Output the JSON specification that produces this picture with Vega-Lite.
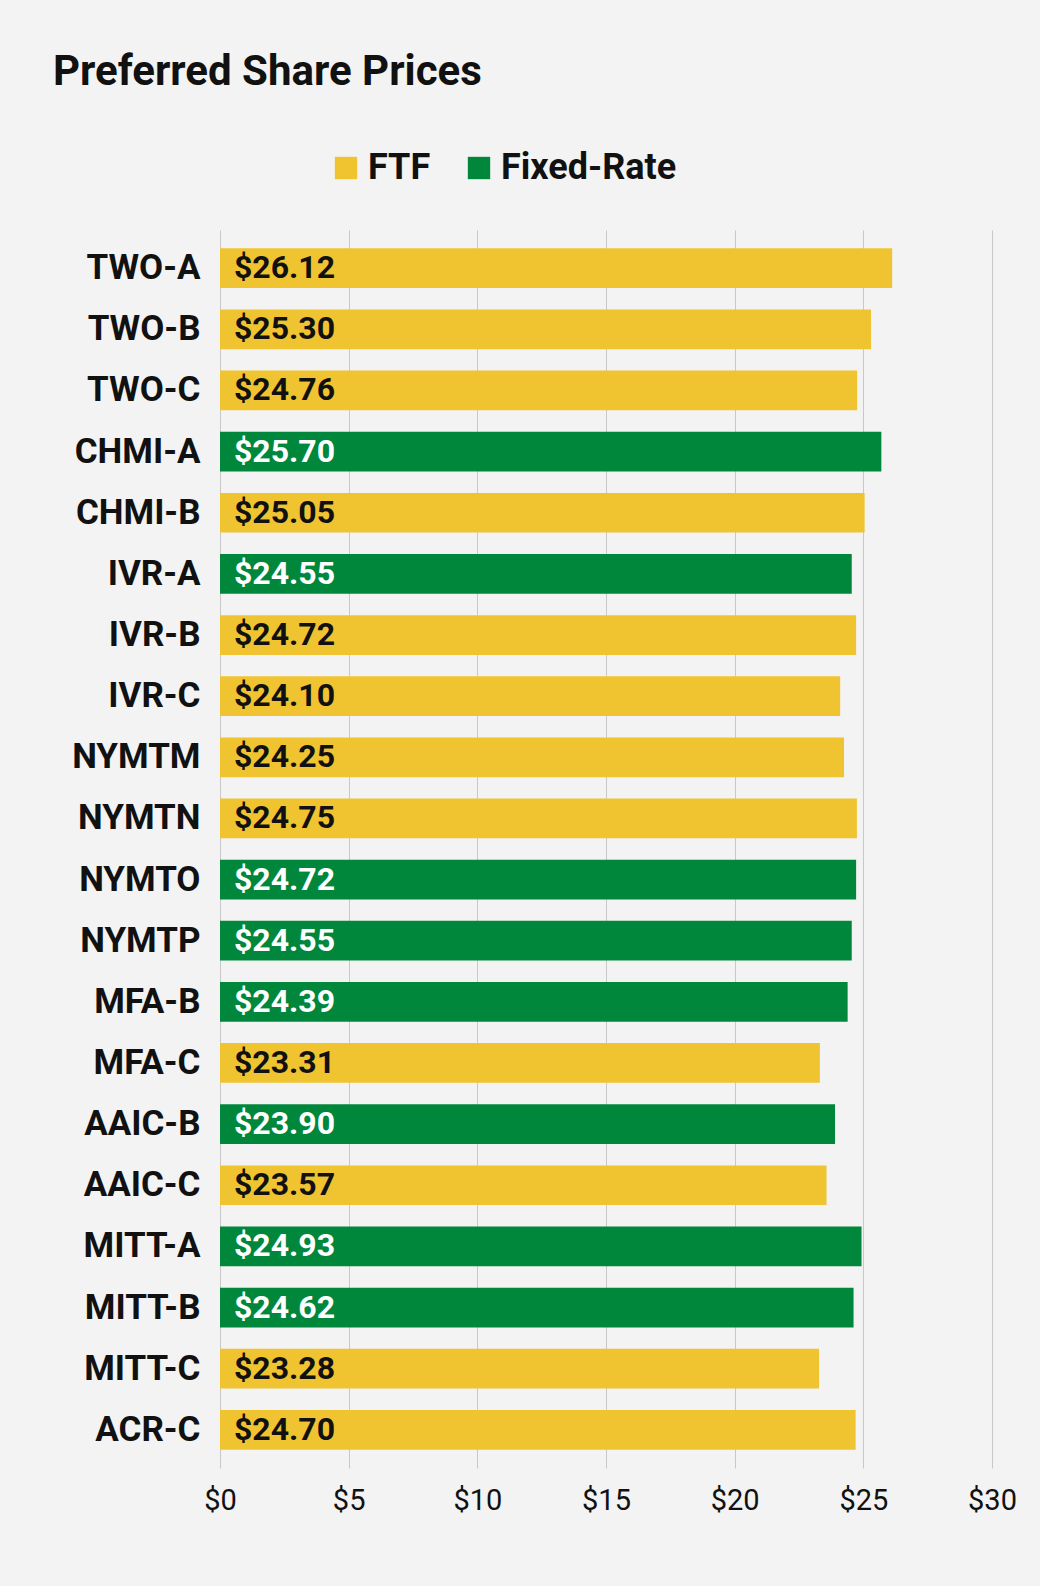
{
"$schema":"https://vega.github.io/schema/vega-lite/v6.json",
"autosize":"none","width":772,"height":1238,
"padding":{"left":220,"top":230,"right":48,"bottom":118},
"background":"#f3f3f3",
"config":{"view":{"stroke":null},"font":"Roboto"},
"title":{"text":"Preferred Share Prices","anchor":"start","frame":"group","dx":-167,"offset":56,"fontSize":42,"fontWeight":"bold","color":"#111","baseline":"top"},
"data":{"values":[
{"n":"TWO-A","v":26.12,"t":"FTF"},{"n":"TWO-B","v":25.30,"t":"FTF"},{"n":"TWO-C","v":24.76,"t":"FTF"},
{"n":"CHMI-A","v":25.70,"t":"Fixed-Rate"},{"n":"CHMI-B","v":25.05,"t":"FTF"},{"n":"IVR-A","v":24.55,"t":"Fixed-Rate"},
{"n":"IVR-B","v":24.72,"t":"FTF"},{"n":"IVR-C","v":24.10,"t":"FTF"},{"n":"NYMTM","v":24.25,"t":"FTF"},
{"n":"NYMTN","v":24.75,"t":"FTF"},{"n":"NYMTO","v":24.72,"t":"Fixed-Rate"},{"n":"NYMTP","v":24.55,"t":"Fixed-Rate"},
{"n":"MFA-B","v":24.39,"t":"Fixed-Rate"},{"n":"MFA-C","v":23.31,"t":"FTF"},{"n":"AAIC-B","v":23.90,"t":"Fixed-Rate"},
{"n":"AAIC-C","v":23.57,"t":"FTF"},{"n":"MITT-A","v":24.93,"t":"Fixed-Rate"},{"n":"MITT-B","v":24.62,"t":"Fixed-Rate"},
{"n":"MITT-C","v":23.28,"t":"FTF"},{"n":"ACR-C","v":24.70,"t":"FTF"}]},
"encoding":{"y":{"field":"n","type":"nominal","sort":null,"scale":{"paddingInner":0.35,"paddingOuter":0.3},
"axis":{"title":null,"labelFontSize":35,"labelFontWeight":"bold","labelColor":"#111","ticks":false,"domain":false,"labelPadding":20,"labelLimit":300}}},
"layer":[
{"mark":{"type":"bar"},
"encoding":{"x":{"field":"v","type":"quantitative","scale":{"domain":[0,30]},
"axis":{"title":null,"values":[0,5,10,15,20,25,30],"labelExpr":"'$'+datum.value","labelFontSize":29,"labelColor":"#111","gridColor":"#c8c8c8","domain":false,"ticks":false,"labelPadding":18,"labelFlush":false,"labelBound":false,"labelOverlap":false}},
"color":{"field":"t","type":"nominal","scale":{"domain":["FTF","Fixed-Rate"],"range":["#f0c330","#00873c"]},
"legend":{"title":null,"orient":"none","direction":"horizontal","legendX":108,"legendY":-80,"labelFontSize":36,"labelFontWeight":"bold","labelColor":"#111","labelLimit":400,"symbolType":"square","symbolSize":500,"columnPadding":30}}}},
{"mark":{"type":"rule","color":"#333","strokeWidth":2},"encoding":{"x":{"datum":0}}},
{"mark":{"type":"text","align":"left","dx":14,"fontSize":32,"fontWeight":"bold"},
"encoding":{"x":{"datum":0},"text":{"field":"v","type":"quantitative","format":"$.2f"},
"color":{"condition":{"test":"datum.t=='FTF'","value":"#111"},"value":"#ffffff"}}}
]}
